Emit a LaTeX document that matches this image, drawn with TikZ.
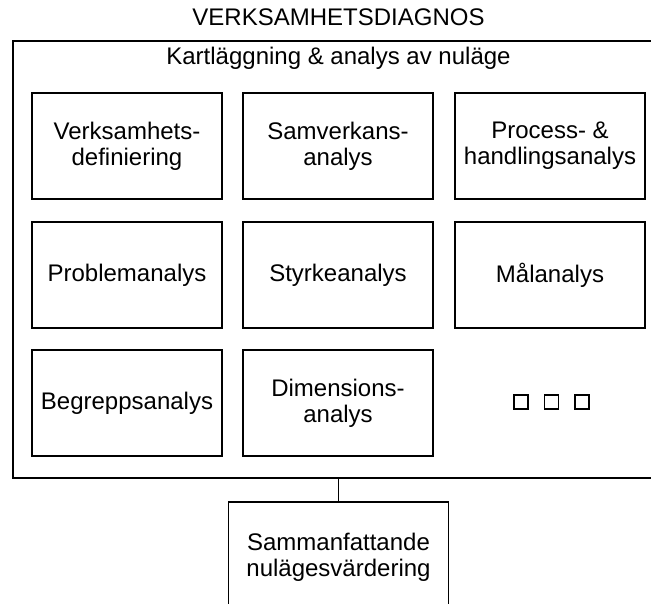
\documentclass[tikz,border=0pt]{standalone}
\usepackage{fontspec}
\setmainfont{Liberation Sans}
\begin{document}
\begin{tikzpicture}[x=1pt,y=-1pt,
  txt/.style={font=\fontsize{24}{26}\selectfont, align=center, inner sep=0pt},
  cell/.style={draw, line width=1.6pt, minimum width=190pt, minimum height=106pt, txt},
  sq/.style={draw, line width=1.6pt, minimum size=14pt, inner sep=0pt}]
\useasboundingbox (0,0) rectangle (651,603);
\clip (0,0) rectangle (651,603);
\node[txt] (title) at (338.5,17) {VERKSAMHETSDIAGNOS};
\node[draw, line width=2pt, minimum width=651pt, minimum height=437pt, inner sep=0pt] (outer) at (338.5,259.5) {};
\node[txt] (sub) at (338.5,58) {Kartläggning \& analys av nuläge};
\node[cell] (c11) at (127,146) {Verksamhets-\\definiering};
\node[cell] (c12) at (338,146) {Samverkans-\\analys};
\node[cell] (c13) at (550,146) {Process- \&\\handlingsanalys};
\node[cell] (c21) at (127,275) {Problemanalys};
\node[cell] (c22) at (338,275) {Styrkeanalys};
\node[cell] (c23) at (550,275) {Målanalys};
\node[cell] (c31) at (127,403) {Begreppsanalys};
\node[cell] (c32) at (338,403) {Dimensions-\\analys};
\node[sq] (s1) at (521,402) {};
\node[sq] (s2) at (551.5,402) {};
\node[sq] (s3) at (582,402) {};
\node[draw, line width=1.6pt, minimum width=220pt, minimum height=110pt, txt, anchor=north] (sum) at (338.5,501) {Sammanfattande\\nulägesvärdering};
\draw[line width=1.6pt] (outer.south) -- (sum.north);
\end{tikzpicture}
\end{document}
